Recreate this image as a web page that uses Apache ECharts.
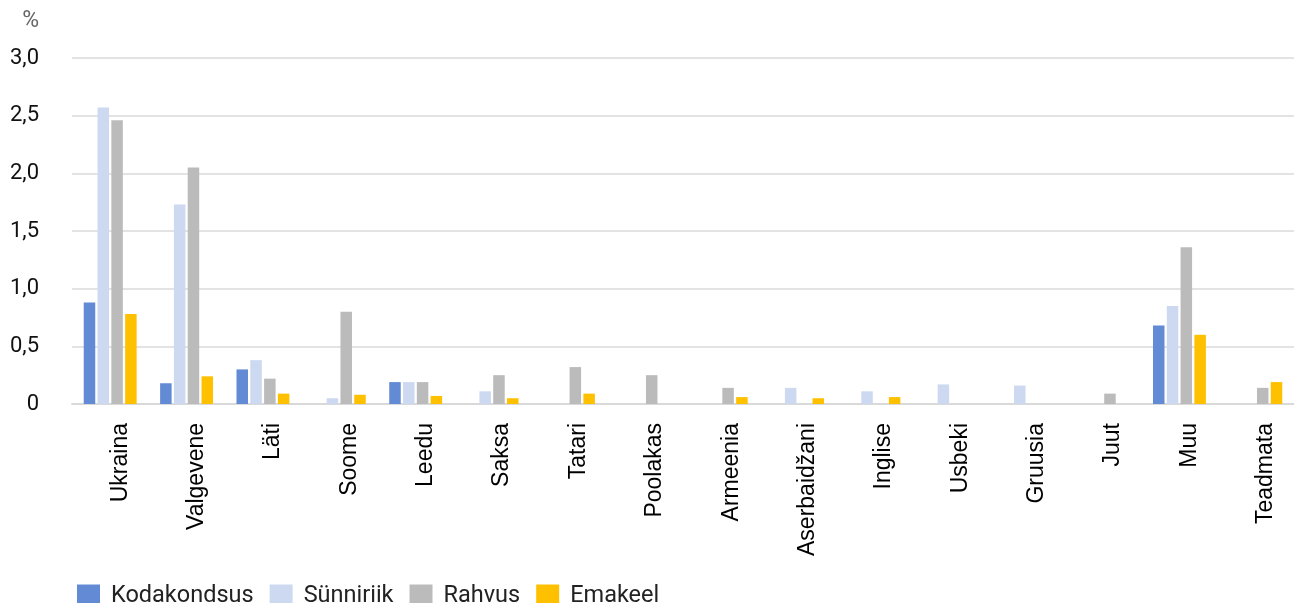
<!DOCTYPE html>
<html>
<head>
<meta charset="utf-8">
<script src="https://cdn.jsdelivr.net/npm/echarts@6/dist/echarts.min.js"></script>
<style>
    html,body{margin:0;padding:0;background:#fff;}
    #chart{width:1294px;height:603px;}
</style>
</head>
<body>
<div id="chart"></div>
<script>
var categories=['Ukraina','Valgevene','Läti','Soome','Leedu','Saksa','Tatari','Poolakas','Armeenia','Aserbaidžani','Inglise','Usbeki','Gruusia','Juut','Muu','Teadmata'];

var kodakondsus=[0.88,0.18,0.30,0,0.19,0,0,0,0,0,0,0,0,0,0.68,0];
var synniriik=[2.57,1.73,0.38,0.05,0.19,0.11,0,0,0,0.14,0.11,0.17,0.16,0,0.85,0];
var rahvus=[2.46,2.05,0.22,0.80,0.19,0.25,0.32,0.25,0.14,0,0,0,0,0.09,1.36,0.14];
var emakeel=[0.78,0.24,0.09,0.08,0.07,0.05,0.09,0,0.06,0.05,0.06,0,0,0,0.60,0.19];

var seriesNames=['Kodakondsus','Sünniriik','Rahvus','Emakeel'];
var colors=['#638ad4','#cdd9f0','#bbbbbb','#ffc000'];

$chart();
function $chart(){
    var myChart=echarts.init(document.getElementById('chart'));
    var values=[kodakondsus,synniriik,rahvus,emakeel];
    var series=[];
    for(var i=0;i<values.length;i++){
        series.push({
            name:seriesNames[i],
            type:'bar',
            data:values[i],
            barWidth:11.5,
            barGap:'20%',
            itemStyle:{color:colors[i]}
        });
    }
    var option={
        animation:false,
        color:colors,
        grid:{left:72,right:0,top:58,bottom:199},
        legend:{
            left:72,
            top:579,
            itemWidth:23,
            itemHeight:23,
            itemGap:16,
            icon:'rect',
            textStyle:{fontFamily:'Roboto',fontSize:23.5,color:'#222',padding:[4,0,0,6]},
            data:seriesNames
        },
        xAxis:{
            type:'category',
            data:categories,
            axisLine:{lineStyle:{color:'#d9d9d9',width:2}},
            axisTick:{show:false},
            axisLabel:{
                interval:0,
                rotate:90,
                margin:19,
                fontFamily:'Arial',
                fontSize:23,
                lineHeight:20,
                color:'#000',
                verticalAlign:'top'
            }
        },
        yAxis:{
            type:'value',
            min:0,
            max:3,
            interval:0.5,
            name:'%',
            nameGap:25,
            nameTextStyle:{
                fontFamily:'Roboto',
                fontSize:23,
                color:'#666',
                align:'right',
                verticalAlign:'bottom',
                padding:[0,33,0,0]
            },
            axisLine:{show:false},
            axisTick:{show:false},
            splitLine:{lineStyle:{color:'#e3e3e3',width:2}},
            axisLabel:{
                margin:33,
                fontFamily:'Roboto',
                fontSize:22,
                color:'#111',
                formatter:function(v){
                    if(v===0){return '0';}
                    return v.toFixed(1).replace('.',',');
                }
            }
        },
        series:series
    };
    myChart.setOption(option);
}
</script>
</body>
</html>
